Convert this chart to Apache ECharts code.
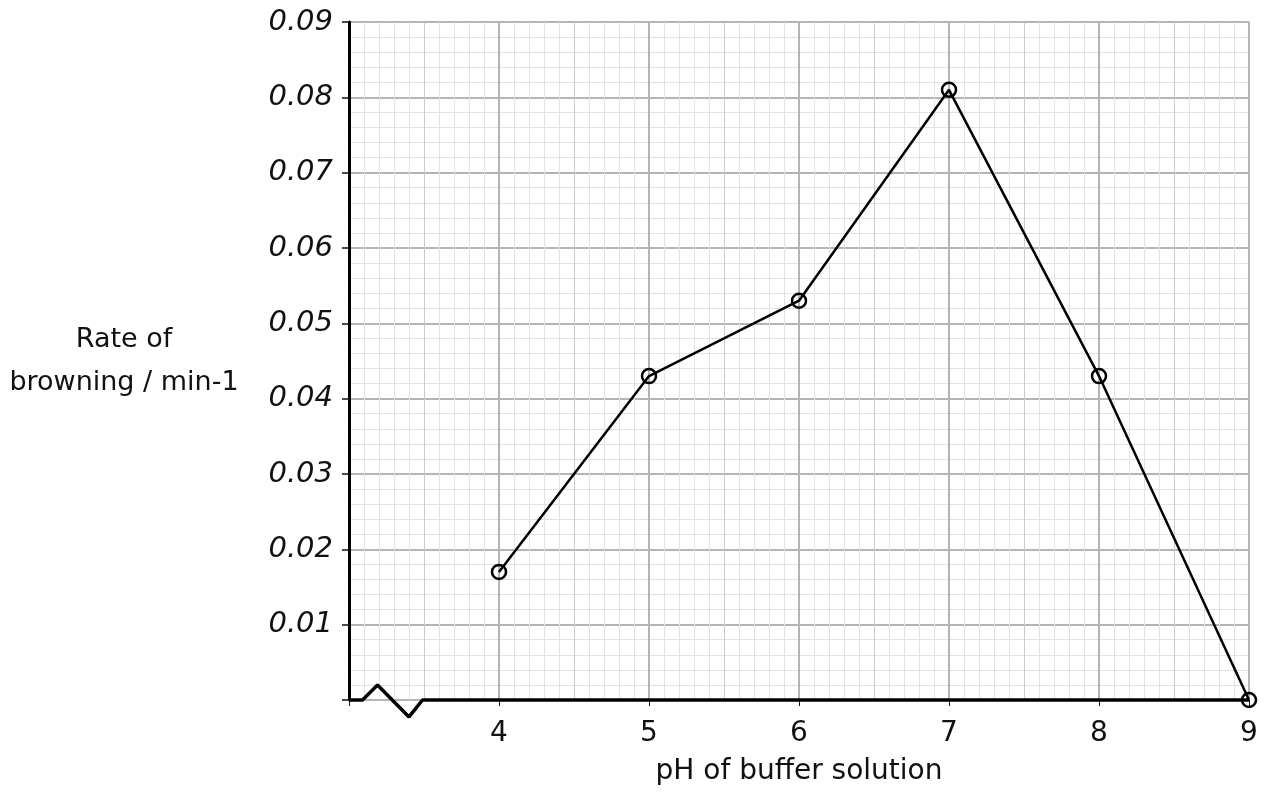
<!DOCTYPE html>
<html>
<head>
<meta charset="utf-8">
<script src="https://cdn.jsdelivr.net/npm/echarts@6/dist/echarts.min.js"></script>
<style>html,body{margin:0;padding:0;background:#fff}#c{width:1271px;height:796px}</style>
</head>
<body>
<div id="c"></div>
<script>
// Data
var phValues = [4, 5, 6, 7, 8, 9];
var rateValues = [0.017, 0.043, 0.053, 0.081, 0.043, 0.0];
var xTickLabels = ['', '4', '5', '6', '7', '8', '9'];
var yTickLabels = ['', '0.01', '0.02', '0.03', '0.04', '0.05', '0.06', '0.07', '0.08', '0.09'];
// axis-break zigzag, in data units (pH, rate)
var breakX = [3, 3.09, 3.19, 3.40, 3.49, 9];
var breakY = [0, 0, 0.002, -0.00225, 0, 0];

var font = 'DejaVu Sans';
var gridPos = {left: 349, right: 22, top: 22, bottom: 96};
var chart = echarts.init(document.getElementById('c'));
chart.setOption({
  animation: false,
  backgroundColor: '#fff',
  grid: [Object.assign({}, gridPos), Object.assign({}, gridPos)],
  xAxis: [
    {gridIndex: 0, type: 'value', min: 3, max: 9, interval: 0.5,
     axisLine: {show: false}, axisTick: {show: false}, axisLabel: {show: false},
     splitLine: {show: true, lineStyle: {color: '#cbcbcb', width: 1}},
     minorTick: {show: false, splitNumber: 5},
     minorSplitLine: {show: true, lineStyle: {color: '#e2e2e2', width: 1}}},
    {gridIndex: 1, type: 'value', min: 3, max: 9, interval: 1,
     axisLine: {show: false},
     axisTick: {show: true, inside: false, length: 6, lineStyle: {color: '#111', width: 1}},
     axisLabel: {show: true, margin: 20, color: '#111', fontFamily: font, fontSize: 28,
       formatter: function (v) { return xTickLabels[Math.round(v - 3)]; }},
     splitLine: {show: true, lineStyle: {color: '#b4b4b4', width: 2}},
     name: 'pH of buffer solution', nameLocation: 'middle', nameGap: 58,
     nameTextStyle: {color: '#111', fontFamily: font, fontSize: 28}}
  ],
  yAxis: [
    {gridIndex: 0, type: 'value', min: 0, max: 0.09, interval: 0.01,
     axisLine: {show: false}, axisTick: {show: false}, axisLabel: {show: false},
     splitLine: {show: false},
     minorTick: {show: false, splitNumber: 5},
     minorSplitLine: {show: true, lineStyle: {color: '#e2e2e2', width: 1}}},
    {gridIndex: 1, type: 'value', min: 0, max: 0.09, interval: 0.01,
     axisLine: {show: true, onZero: false, lineStyle: {color: '#000', width: 3}},
     axisTick: {show: true, inside: false, length: 7, lineStyle: {color: '#111', width: 1.5}},
     axisLabel: {show: true, margin: 16, color: '#111', fontFamily: font, fontSize: 29, fontStyle: 'italic',
       formatter: function (v) { return yTickLabels[Math.round(v * 100)]; }},
     splitLine: {show: true, lineStyle: {color: '#b4b4b4', width: 2}},
     name: 'Rate of\nbrowning / min-1', nameLocation: 'middle', nameRotate: 0, nameGap: 225,
     nameTextStyle: {color: '#111', fontFamily: font, fontSize: 27, align: 'center', verticalAlign: 'middle',
       lineHeight: 43, padding: [6, 0, 0, 0]}}
  ],
  series: [
    {type: 'line', xAxisIndex: 1, yAxisIndex: 1, clip: false, silent: true,
     data: breakX.map(function (x, i) { return [x, breakY[i]]; }),
     symbol: 'none', lineStyle: {color: '#000', width: 3.5}, z: 5},
    {type: 'line', xAxisIndex: 1, yAxisIndex: 1, clip: false,
     data: phValues.map(function (x, i) { return [x, rateValues[i]]; }),
     symbol: 'circle', symbolSize: 14,
     itemStyle: {color: 'rgba(255,255,255,0)', borderColor: '#000', borderWidth: 2.5},
     lineStyle: {color: '#000', width: 2.5}, z: 6}
  ]
});
</script>
</body>
</html>
